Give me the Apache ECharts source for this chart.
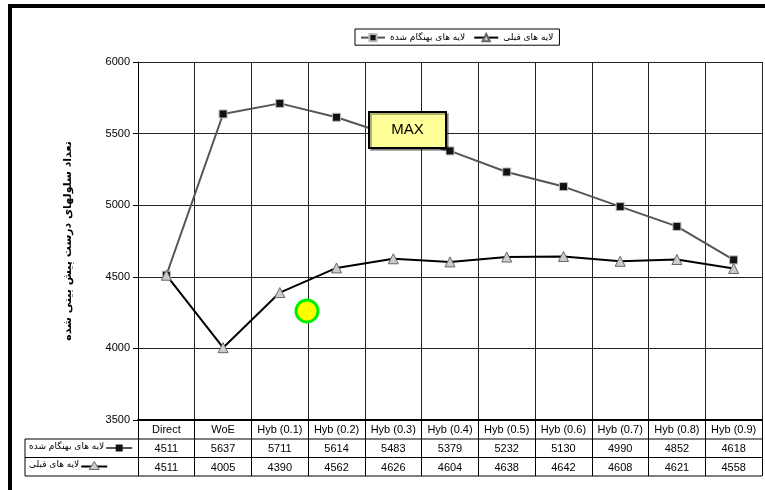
<!DOCTYPE html>
<html>
<head>
<meta charset="utf-8">
<script src="https://cdn.jsdelivr.net/npm/echarts@6/dist/echarts.min.js"></script>
<style>
  html, body { margin: 0; padding: 0; background: #fff; }
  #chart { width: 765px; height: 490px; }
</style>
</head>
<body>
<div id="chart"></div>
<script>
var categories = ['Direct', 'WoE', 'Hyb (0.1)', 'Hyb (0.2)', 'Hyb (0.3)', 'Hyb (0.4)', 'Hyb (0.5)', 'Hyb (0.6)', 'Hyb (0.7)', 'Hyb (0.8)', 'Hyb (0.9)'];
var updatedName = 'لایه های بهنگام شده';
var previousName = 'لایه های قبلی';
var updatedLayers = [4511, 5637, 5711, 5614, 5483, 5379, 5232, 5130, 4990, 4852, 4618];
var previousLayers = [4511, 4005, 4390, 4562, 4626, 4604, 4638, 4642, 4608, 4621, 4558];
var yTitle = 'تعداد سلولهای درست پیش بینی شده';

var faFont = '"DejaVu Sans", sans-serif';
var numFont = '"Liberation Sans", Arial, sans-serif';

var chart = echarts.init(document.getElementById('chart'));

// table geometry (plot area goes 138..762 x 62..420)
var tLeft = 25, tRight = 762, gLeft = 138;
var rowTop = [439, 457.5, 476];

function measure(txt) {
    var c = document.createElement('canvas').getContext('2d');
    c.font = '9px ' + faFont;
    return c.measureText(txt).width;
}

function keyCell(name, y, kind) {
    var w = measure(name);
    var x0 = 29 + w + 2;
    var cy = y + 9;
    var els = [
        {type: 'text', left: 29, top: cy - 6, style: {text: name, font: '9px ' + faFont, fill: '#000'}},
        {type: 'line', shape: {x1: x0, y1: cy, x2: x0 + 26, y2: cy}, style: {stroke: kind == 'sq' ? '#555' : '#000', lineWidth: 2}}
    ];
    if (kind == 'sq') {
        els.push({type: 'rect', shape: {x: x0 + 9.5, y: cy - 3.5, width: 7, height: 7}, style: {fill: '#111'}});
    } else {
        els.push({type: 'polygon', shape: {points: [[x0 + 13, cy - 5], [x0 + 18, cy + 3], [x0 + 8, cy + 3]]}, style: {fill: '#ccc', stroke: '#666', lineWidth: 1}});
    }
    return els;
}

var graphics = [
    // thick frame on left and top
    {type: 'line', shape: {x1: 10, y1: 6, x2: 10, y2: 490}, style: {stroke: '#000', lineWidth: 4}},
    {type: 'line', shape: {x1: 8, y1: 6, x2: 765, y2: 6}, style: {stroke: '#000', lineWidth: 4}},
    // data table rules
    {type: 'line', shape: {x1: tLeft, y1: rowTop[0], x2: tRight, y2: rowTop[0]}, style: {stroke: '#000', lineWidth: 1}},
    {type: 'line', shape: {x1: tLeft, y1: rowTop[1], x2: tRight, y2: rowTop[1]}, style: {stroke: '#000', lineWidth: 1}},
    {type: 'line', shape: {x1: tLeft, y1: rowTop[2], x2: tRight, y2: rowTop[2]}, style: {stroke: '#000', lineWidth: 1}},
    {type: 'line', shape: {x1: tLeft, y1: rowTop[0], x2: tLeft, y2: rowTop[2]}, style: {stroke: '#000', lineWidth: 1}},
    // MAX callout
    {type: 'rect', shape: {x: 369, y: 112, width: 77, height: 36}, style: {fill: '#FFFF99', stroke: '#000', lineWidth: 2, shadowColor: 'rgba(0,0,0,0.3)', shadowOffsetX: 2, shadowOffsetY: 2}, z: 10},
    {type: 'text', x: 407.5, y: 130, style: {text: 'MAX', font: '15px ' + numFont, fill: '#000', align: 'center', verticalAlign: 'middle'}, z: 11},
    // marker dot
    {type: 'circle', shape: {cx: 307, cy: 311, r: 11}, style: {fill: '#FFFF00', stroke: '#00EE00', lineWidth: 3}, z: 10}
].concat(keyCell(updatedName, rowTop[0], 'sq'), keyCell(previousName, rowTop[1], 'tri'));

var option = {
    animation: false,
    backgroundColor: '#fff',
    legend: {
        data: [updatedName, previousName],
        left: 355,
        top: 29,
        padding: [4, 6, 3, 5],
        borderColor: '#000',
        borderWidth: 1,
        itemWidth: 24,
        itemHeight: 9,
        itemGap: 8,
        textStyle: {fontFamily: faFont, fontSize: 9, color: '#000'}
    },
    grid: {left: gLeft, right: 765 - tRight, top: 62, bottom: 70},
    xAxis: [
        {
            type: 'category',
            data: categories,
            boundaryGap: true,
            axisLine: {lineStyle: {color: '#000', width: 2}},
            axisTick: {show: true, interval: 0, length: 56, lineStyle: {color: '#000', width: 1}},
            axisLabel: {interval: 0, margin: 4, fontFamily: numFont, fontSize: 11, color: '#000'},
            splitLine: {show: true, interval: 0, lineStyle: {color: '#222', width: 1}}
        },
        {
            type: 'category',
            data: categories,
            position: 'bottom',
            offset: 19.5,
            axisLine: {show: false},
            axisTick: {show: false},
            axisLabel: {interval: 0, margin: 4, fontFamily: numFont, fontSize: 11, color: '#000',
                formatter: function (v, i) { return String(updatedLayers[i]); }}
        },
        {
            type: 'category',
            data: categories,
            position: 'bottom',
            offset: 38,
            axisLine: {show: false},
            axisTick: {show: false},
            axisLabel: {interval: 0, margin: 4, fontFamily: numFont, fontSize: 11, color: '#000',
                formatter: function (v, i) { return String(previousLayers[i]); }}
        }
    ],
    yAxis: {
        type: 'value',
        min: 3500,
        max: 6000,
        interval: 500,
        name: yTitle,
        nameLocation: 'middle',
        nameRotate: 90,
        nameGap: 64,
        nameTextStyle: {fontFamily: faFont, fontSize: 11, fontWeight: 'bold', color: '#000'},
        axisLine: {show: true, lineStyle: {color: '#000', width: 1}},
        axisTick: {show: true, length: 5, lineStyle: {color: '#000'}},
        axisLabel: {fontFamily: numFont, fontSize: 11, color: '#000', margin: 8,
            formatter: function (v) { return String(v); }},
        splitLine: {lineStyle: {color: '#222', width: 1}}
    },
    series: [
        {
            name: updatedName,
            type: 'line',
            data: updatedLayers,
            symbol: 'rect',
            symbolSize: 8,
            lineStyle: {color: '#555', width: 2},
            itemStyle: {color: '#111', borderColor: '#bbb', borderWidth: 1},
            z: 3
        },
        {
            name: previousName,
            type: 'line',
            data: previousLayers,
            symbol: 'triangle',
            symbolSize: 10,
            lineStyle: {color: '#000', width: 2},
            itemStyle: {color: '#ccc', borderColor: '#666', borderWidth: 1},
            z: 4
        }
    ],
    graphic: graphics
};
chart.setOption(option);
</script>
</body>
</html>
